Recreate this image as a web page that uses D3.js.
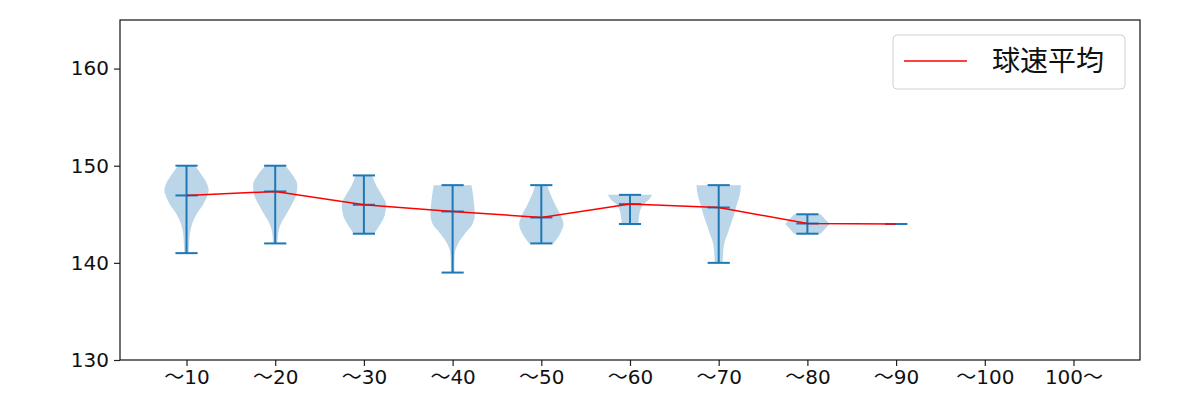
<!DOCTYPE html>
<html>
<head>
<meta charset="utf-8">
<script src="https://cdn.jsdelivr.net/npm/d3@7"></script>
<style>
  html, body { margin: 0; padding: 0; background: #fff; }
  svg { display: block; }
  text { font-family: "DejaVu Sans", "Noto Sans CJK JP", sans-serif; }
</style>
</head>
<body>
<svg id="chart" width="1200" height="400"></svg>
<script>
// ---- data ----
const categories = ["\u301c10", "\u301c20", "\u301c30", "\u301c40", "\u301c50", "\u301c60", "\u301c70", "\u301c80", "\u301c90", "\u301c100", "100\u301c"];
const yTicks = [130, 140, 150, 160];
const mins  = [141, 142, 143, 139, 142, 144, 140, 143, 144, null, null];
const maxs  = [150, 150, 149, 148, 148, 147, 148, 145, 144, null, null];
const means = [146.94, 147.35, 145.98, 145.29, 144.67, 146.05, 145.7, 144.05, 144, null, null];
// violin outlines: speed values and relative half-widths (0..1)
const shapeValues = [
  [141, 142, 143, 144, 145, 146, 147, 147.5, 148, 149, 150],
  [142, 143, 144, 145, 146, 147, 148, 149, 150],
  [143, 144, 145, 146, 147, 148, 149],
  [139, 140, 141, 142, 143, 144, 145, 146, 147, 148],
  [142, 143, 144, 145, 146, 147, 148],
  [144, 145, 146, 146.5, 147],
  [140, 141, 142, 143, 144, 145, 146, 147, 148],
  [143, 143.5, 144, 144.5, 145],
  [], [], []
];
const shapeWidths = [
  [0.10, 0.12, 0.15, 0.25, 0.45, 0.75, 0.95, 1.0, 0.95, 0.7, 0.38],
  [0.10, 0.13, 0.25, 0.5, 0.75, 0.95, 1.0, 0.8, 0.45],
  [0.45, 0.75, 0.95, 1.0, 0.8, 0.55, 0.37],
  [0.08, 0.08, 0.10, 0.25, 0.55, 0.9, 1.0, 0.97, 0.92, 0.85],
  [0.55, 0.85, 1.0, 0.85, 0.62, 0.42, 0.27],
  [0.38, 0.42, 0.6, 0.85, 1.0],
  [0.18, 0.2, 0.25, 0.4, 0.55, 0.7, 0.82, 0.95, 1.0],
  [0.6, 0.8, 1.0, 0.8, 0.6],
  [], [], []
];
const legendLabel = "\u7403\u901f\u5e73\u5747";

// ---- layout ----
const svg = d3.select("#chart");
const L = 120, R = 1140, T = 20, B = 360;
const x = d3.scaleLinear().domain([0.25, categories.length + 0.75]).range([L, R]);
const y = d3.scaleLinear().domain([130, 165]).range([B, T]);
const blue = "#1f77b4";
const halfW = x(0.25) - x(0);      // violin max half width (widths = 0.5)
const capW = x(0.125) - x(0);      // cap half length

const g = svg.append("g");

// violins
categories.forEach((c, i) => {
  const cx = x(i + 1);
  const vals = shapeValues[i];
  if (vals.length) {
    const pts = vals.map((v, k) => ({ v, w: shapeWidths[i][k] }));
    const area = d3.area()
      .y(d => y(d.v))
      .x0(d => cx - d.w * halfW)
      .x1(d => cx + d.w * halfW)
      .curve(i === 7 ? d3.curveLinear : d3.curveMonotoneY);
    g.append("path").attr("d", area(pts))
      .attr("fill", blue).attr("fill-opacity", 0.3).attr("stroke", "none");
  }
  if (mins[i] !== null) {
    g.append("line").attr("x1", cx).attr("x2", cx)
      .attr("y1", y(mins[i])).attr("y2", y(maxs[i]))
      .attr("stroke", blue).attr("stroke-width", 2);
    [mins[i], maxs[i], means[i]].forEach(v => {
      g.append("line").attr("x1", cx - capW).attr("x2", cx + capW)
        .attr("y1", y(v)).attr("y2", y(v))
        .attr("stroke", blue).attr("stroke-width", 2);
    });
  }
});

// mean line
const meanPts = means.map((m, i) => ({ i: i + 1, m })).filter(d => d.m !== null);
g.append("path")
  .attr("d", d3.line().x(d => x(d.i)).y(d => y(d.m))(meanPts))
  .attr("fill", "none").attr("stroke", "#ff0000").attr("stroke-width", 1.5);

// axes
const xAxis = d3.axisBottom(x)
  .tickValues(d3.range(1, categories.length + 1))
  .tickFormat(d => categories[d - 1])
  .tickSize(6).tickPadding(4);
const yAxis = d3.axisLeft(y).tickValues(yTicks).tickSize(6).tickPadding(5);

const gx = svg.append("g").attr("transform", `translate(0,${B})`).call(xAxis);
const gy = svg.append("g").attr("transform", `translate(${L},0)`).call(yAxis);
[gx, gy].forEach(a => {
  a.select(".domain").remove();
  a.selectAll(".tick line").attr("stroke", "#222").attr("stroke-width", 1.2);
  a.selectAll(".tick text").attr("fill", "#111")
    .style("font-size", "20px").style("font-family", '"DejaVu Sans", "Noto Sans CJK JP", sans-serif');
});

// frame
svg.append("rect").attr("x", L).attr("y", T).attr("width", R - L).attr("height", B - T)
  .attr("fill", "none").attr("stroke", "#111").attr("stroke-width", 1.2);

// legend
const lg = svg.append("g").attr("transform", `translate(893,35)`);
lg.append("rect").attr("width", 232).attr("height", 54).attr("rx", 4)
  .attr("fill", "#fff").attr("fill-opacity", 0.8).attr("stroke", "#d0d0d0");
lg.append("line").attr("x1", 11).attr("x2", 74).attr("y1", 26).attr("y2", 26)
  .attr("stroke", "#ff0000").attr("stroke-width", 1.5);
lg.append("text").attr("x", 99).attr("y", 36).text(legendLabel)
  .style("font-size", "28px").style("font-family", '"Noto Sans CJK JP", sans-serif').attr("fill", "#111");
</script>
</body>
</html>
